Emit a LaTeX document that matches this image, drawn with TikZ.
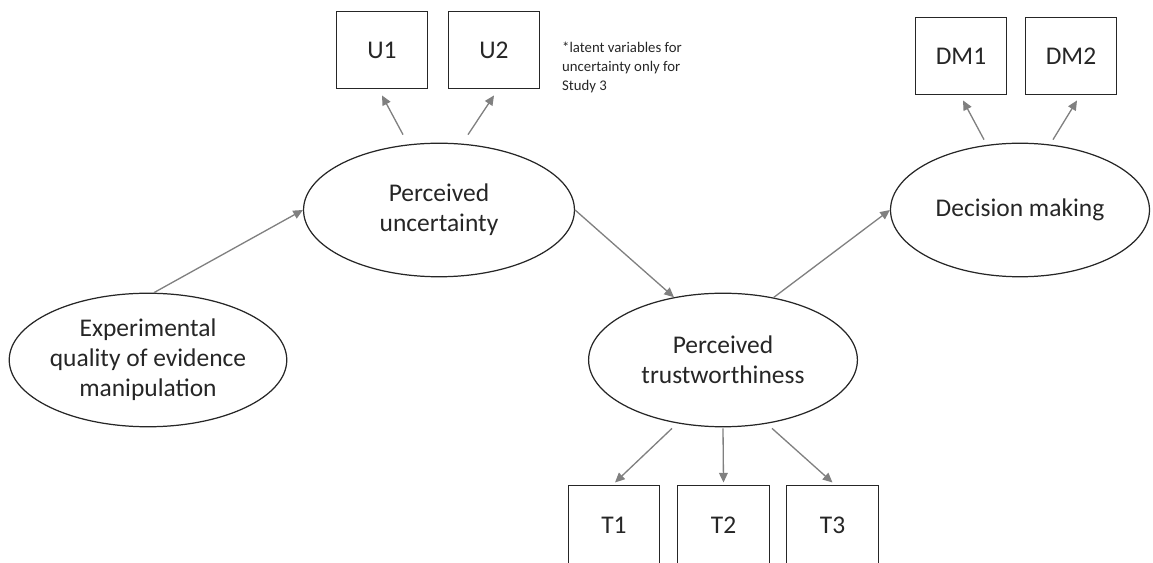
\documentclass[tikz,border=0pt]{standalone}
\usepackage{fontspec}
\setmainfont{Carlito}
\usetikzlibrary{shapes.geometric,arrows.meta,calc}

\begin{document}
\begin{tikzpicture}[x=0.02cm,y=-0.02cm,
        latent/.style={ellipse,draw=black!85,line width=0.7pt,inner sep=0pt,
            minimum height=76pt,align=center,text=black!85,
            font=\fontsize{14.5}{17}\selectfont},
        item/.style={rectangle,draw=black!85,line width=0.7pt,
            minimum width=52.2pt,minimum height=44.2pt,text=black!85,
            font=\fontsize{14.5}{17}\selectfont},
        arr/.style={-{Triangle[length=5.5pt,width=5pt]},draw=black!50,line width=0.75pt}]
            \useasboundingbox (0,0) rectangle (1153,563);
            \clip (0,0) rectangle (1153,563);
            \draw (148,360) node[latent,minimum width=155.3pt] (expe) {Experimental\\quality of evidence\\manipulation};
            \draw (439,210) node[latent,minimum width=154.2pt] (unce) {Perceived\\uncertainty};
            \draw (723,360) node[latent,minimum width=153pt] (trus) {Perceived\\trustworthiness};
            \draw (1020,210) node[latent,minimum width=147.4pt] (deci) {Decision making};
            \draw (382,50) node[item] (u1) {U1};
            \draw (494,50) node[item] (u2) {U2};
            \draw (961,56) node[item] (dm1) {DM1};
            \draw (1071,56) node[item] (dm2) {DM2};
            \draw (614,525) node[item,minimum height=45.4pt] (t1) {T1};
            \draw (723.5,525) node[item,minimum height=45.4pt] (t2) {T2};
            \draw (832.5,525) node[item,minimum height=45.4pt] (t3) {T3};
            \draw (556,36) node[anchor=north west,align=left,text=black!85,
                  font=\fontsize{8.4}{10.8}\selectfont] (note)
                  {*latent variables for\\uncertainty only for\\Study 3};
            \draw[arr] (expe.85) -- (unce.west);
            \draw[arr] (unce.east) -- (trus.128);
            \draw[arr] (trus.51) -- (deci.west);
            \draw[arr] ($(unce.north)+(-36,-8)$) -- ($(u1.south)+(0,6)$);
            \draw[arr] ($(unce.north)+(29,-8)$) -- ($(u2.south)+(0,6)$);
            \draw[arr] ($(deci.north)+(-36,-3)$) -- ($(dm1.south)+(2,5)$);
            \draw[arr] ($(deci.north)+(33,-3)$) -- ($(dm2.south)+(6,5)$);
            \draw[arr] ($(trus.south)+(-51,1)$) -- ($(t1.north)+(1,-2)$);
            \draw[arr] ($(trus.south)+(0,1)$) -- ($(t2.north)+(0,-2)$);
            \draw[arr] ($(trus.south)+(49,1)$) -- ($(t3.north)+(0,-2)$);
        \end{tikzpicture}
\end{document}
